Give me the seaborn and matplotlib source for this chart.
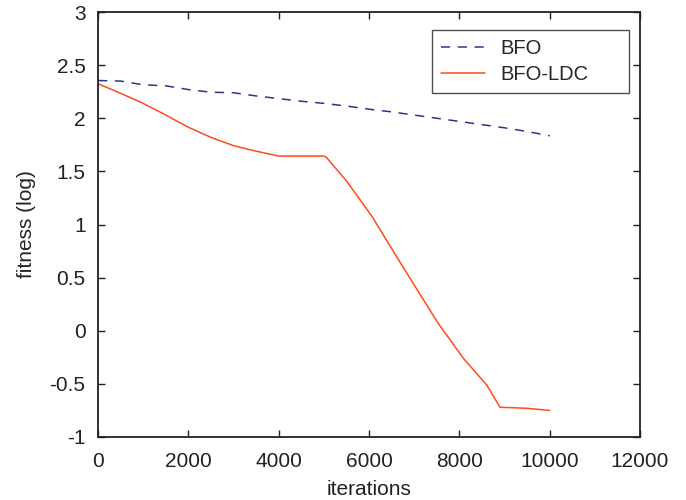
import matplotlib
matplotlib.use("Agg")
import matplotlib.pyplot as plt
import seaborn as sns
import pandas as pd

# values
bfo_iter = [0, 500, 1000, 1500, 2000, 2500, 3000, 3500, 4000, 4500, 5000,
            5500, 6000, 6500, 7000, 7500, 8000, 8500, 9000, 9500, 10000]
bfo_fit = [2.355, 2.35, 2.315, 2.305, 2.27, 2.245, 2.24, 2.21, 2.185, 2.16, 2.14,
           2.115, 2.085, 2.06, 2.03, 2.0, 1.97, 1.94, 1.91, 1.875, 1.835]

ldc_iter = [0, 500, 1000, 1500, 2000, 2500, 3000, 3500, 4000, 5000, 5050,
            5500, 6060, 6500, 6686, 7000, 7535, 8090, 8605, 8900, 9500, 10000]
ldc_fit = [2.325, 2.235, 2.14, 2.03, 1.915, 1.82, 1.742, 1.69, 1.644, 1.644, 1.635,
           1.41, 1.08, 0.774, 0.645, 0.431, 0.067, -0.26, -0.51, -0.72, -0.73, -0.75]

x_ticks = [0, 2000, 4000, 6000, 8000, 10000, 12000]
y_ticks = [-1, -0.5, 0, 0.5, 1, 1.5, 2, 2.5, 3]
y_labels = ["-1", "-0.5", "0", "0.5", "1", "1.5", "2", "2.5", "3"]

df = pd.concat([
    pd.DataFrame({"iterations": bfo_iter, "fitness": bfo_fit, "method": "BFO"}),
    pd.DataFrame({"iterations": ldc_iter, "fitness": ldc_fit, "method": "BFO-LDC"}),
])

sns.set_style("ticks")
plt.rcParams["font.family"] = ["Liberation Sans", "DejaVu Sans"]

fig = plt.figure(figsize=(6.86, 5.0), dpi=100)
ax = fig.add_axes([0.1429, 0.126, 0.7901, 0.850])

sns.lineplot(data=df, x="iterations", y="fitness", hue="method", style="method",
             palette={"BFO": "#2e3192", "BFO-LDC": "#ff4a1c"},
             dashes={"BFO": (6, 5), "BFO-LDC": ""},
             linewidth=1.1, ax=ax, estimator=None, sort=False)

ax.set_xlim(0, 12000)
ax.set_ylim(-1, 3)
ax.set_xticks(x_ticks)
ax.set_xticklabels([str(t) for t in x_ticks])
ax.set_yticks(y_ticks)
ax.set_yticklabels(y_labels)
ax.tick_params(direction="in", top=True, right=True, length=5, width=1,
               labelsize=15, colors="#222222")
ax.tick_params(axis="x", pad=10.5)
ax.tick_params(axis="y", pad=9)
for s in ax.spines.values():
    s.set_linewidth(1.3)
    s.set_color("#222222")

ax.set_xlabel("iterations", fontsize=15, color="#222222", labelpad=7)
ax.set_ylabel("fitness (log)", fontsize=15, color="#222222", labelpad=10)

# legend box stretched to the reference width, extra room on the right
leg = ax.legend(loc="upper left", bbox_to_anchor=(0.616, 0.958, 0.3635, 0.0),
                mode="expand", borderaxespad=0, fontsize=14.5,
                frameon=True, fancybox=False, edgecolor="#222222",
                handlelength=2.2, handletextpad=0.75, borderpad=0.45,
                labelspacing=0.35)
leg.get_frame().set_linewidth(1.0)

fig.savefig("out.png", dpi=100)
